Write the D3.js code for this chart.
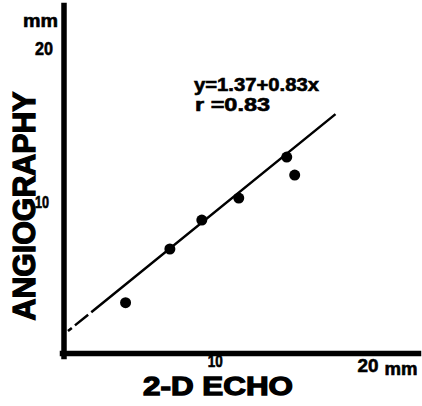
<!DOCTYPE html>
<html>
<head>
<meta charset="utf-8">
<script src="https://cdn.jsdelivr.net/npm/d3@7"></script>
<style>
  html, body { margin: 0; padding: 0; background: #fff; }
  svg text { font-family: "Liberation Sans", Arial, sans-serif; font-weight: bold; fill: #000; stroke: #000; stroke-width: 0.6px; }
  svg text.title { stroke-width: 1.3px; }
</style>
</head>
<body>
<svg id="chart"></svg>
<script>
const width = 422, height = 406;

// 2-D echo vs angiography, mm
const echoMm = [4.16, 7.06, 9.15, 11.57, 14.71, 15.23];
const angioMm = [3.46, 6.95, 8.83, 10.26, 12.92, 11.75];

// regression line as drawn on the figure
const fitX = [0.39, 17.9];
const fitY = [1.62, 15.71];

const xTicks = [10, 20];
const yTicks = [10, 20];
const equationLines = ["y=1.37+0.83x", "r  =0.83"];

const svg = d3.select("#chart")
    .attr("width", width)
    .attr("height", height)
    .attr("viewBox", [0, 0, width, height]);

const x = d3.scaleLinear().domain([0, 23.3]).range([62, 418]);
const y = d3.scaleLinear().domain([0, 22.8]).range([356, 5]);

// axes
const xAxis = svg.append("g")
    .attr("transform", "translate(0,353)")
    .call(d3.axisBottom(x).tickValues(xTicks).tickSize(0).tickSizeOuter(0).tickPadding(6));

const yAxis = svg.append("g")
    .attr("transform", "translate(63.5,0)")
    .call(d3.axisLeft(y).tickValues(yTicks).tickSize(0).tickSizeOuter(0).tickPadding(10));

[xAxis, yAxis].forEach(g => {
    g.attr("font-family", null).attr("font-size", null);
    g.select(".domain")
        .attr("stroke", "#000")
        .attr("stroke-width", 5.5)
        .attr("stroke-linecap", "square");
    g.selectAll(".tick text")
        .attr("fill", "#000")
        .style("font-size", d => d === 10 ? "16px" : "19px");
});

xAxis.selectAll(".tick text")
    .attr("textLength", d => d === 10 ? 15 : 21)
    .attr("lengthAdjust", "spacingAndGlyphs");

xAxis.selectAll(".tick")
    .filter(d => d === 10)
    .select("text")
    .attr("y", 3);

yAxis.selectAll(".tick text")
    .attr("x", d => d === 10 ? -14.5 : -10.5)
    .attr("textLength", d => d === 10 ? 14 : 18)
    .attr("lengthAdjust", "spacingAndGlyphs");

// units
svg.append("text")
    .attr("x", x(20) + 17)
    .attr("y", 375)
    .style("font-size", "18px")
    .attr("textLength", 33)
    .attr("lengthAdjust", "spacingAndGlyphs")
    .text("mm");

svg.append("text")
    .attr("x", 58)
    .attr("y", 27)
    .attr("text-anchor", "end")
    .style("font-size", "18px")
    .attr("textLength", 35)
    .attr("lengthAdjust", "spacingAndGlyphs")
    .text("mm");

// axis titles
svg.append("text")
    .attr("class", "title")
    .attr("x", 143)
    .attr("y", 395)
    .style("font-size", "26px")
    .attr("textLength", 150)
    .attr("lengthAdjust", "spacingAndGlyphs")
    .text("2-D ECHO");

svg.append("text")
    .attr("class", "title")
    .attr("transform", "translate(35,206) rotate(-90)")
    .attr("text-anchor", "middle")
    .style("font-size", "32px")
    .attr("textLength", 229)
    .attr("lengthAdjust", "spacingAndGlyphs")
    .text("ANGIOGRAPHY");

// regression line, broken near the origin
const line = d3.line()
    .x(d => x(d[0]))
    .y(d => y(d[1]));

svg.append("path")
    .datum(d3.zip(fitX, fitY))
    .attr("d", line)
    .attr("fill", "none")
    .attr("stroke", "#000")
    .attr("stroke-width", 2.5)
    .attr("stroke-dasharray", "5,4,17,4,1000");

// points
svg.append("g")
    .selectAll("circle")
    .data(d3.zip(echoMm, angioMm))
    .join("circle")
    .attr("cx", d => x(d[0]))
    .attr("cy", d => y(d[1]))
    .attr("r", 5.5)
    .attr("fill", "#000");

// equation
svg.append("g")
    .selectAll("text")
    .data(equationLines)
    .join("text")
    .attr("x", (d, i) => i === 0 ? 194 : 195)
    .attr("y", (d, i) => 91 + i * 20)
    .style("font-size", "18px")
    .attr("textLength", (d, i) => i === 0 ? 125 : 75)
    .attr("lengthAdjust", "spacingAndGlyphs")
    .text(d => d);
</script>
</body>
</html>
